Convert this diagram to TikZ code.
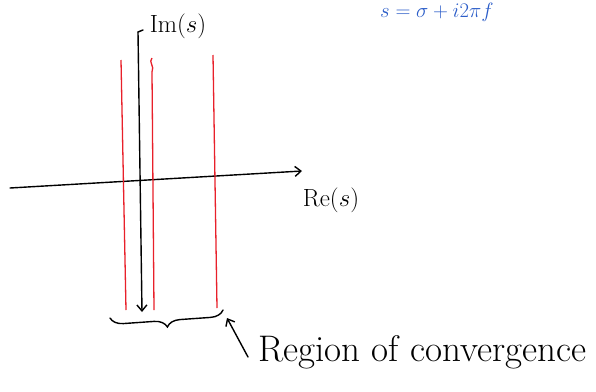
\documentclass[tikz,border=0pt]{standalone}
\usepackage{amsmath, amssymb}
\usepackage{xcolor}
\usetikzlibrary{decorations.pathreplacing, arrows.meta}
\definecolor{roc-red}{HTML}{E8202A}
\definecolor{note-blue}{HTML}{2A5CC8}

\begin{document}
\begin{tikzpicture}[x=1pt, y=-1pt,
        every node/.style={inner sep=0pt},
        axis/.style={line width=1.4pt, line cap=round},
        strip/.style={roc-red, line width=1.3pt}]
      \useasboundingbox (0,0) rectangle (596,391);
      % axes
      \coordinate (reL) at (10,188);
      \coordinate (reR) at (302,171);
      \coordinate (imT) at (138,32);
      \coordinate (imB) at (142,312);
      \draw[axis, -{Straight Barb[length=6pt, width=10pt]}] (reL) -- (reR);
      \draw[axis, -{Straight Barb[length=6pt, width=10pt]}] (imT) -- (imB);
      \draw[axis] (imT) -- ++(5,-2);
      \node[font=\fontsize{24}{28}\selectfont] (relabel) at (331,200) {$\mathrm{Re}(s)$};
      \node[font=\fontsize{25}{30}\selectfont] (imlabel) at (178,26) {$\mathrm{Im}(s)$};
      % strip boundaries
      \coordinate (s1t) at (121,60);
      \coordinate (s1b) at (126,310);
      \coordinate (s2t) at (152,58);
      \coordinate (s2b) at (154,310);
      \coordinate (s3t) at (213,55);
      \coordinate (s3b) at (217,308);
      \draw[strip] (s1t) -- (s1b);
      \draw[strip] (s2t) .. controls (148,62) and (155,66) .. (152,72) -- (s2b);
      \draw[strip] (s3t) -- (s3b);
      % region brace and label
      \coordinate (brL) at (110,318);
      \coordinate (brR) at (223,310);
      \draw[axis, decorate, decoration={brace, mirror, amplitude=13pt}] (brL) -- (brR);
      \node[anchor=west, font=\fontsize{37}{44}\selectfont] (roc) at (258,352) {Region of convergence};
      \draw[axis, -{Straight Barb[length=6pt, width=10pt]}] (roc.west) ++(-10,5) -- (227,318);
      \node[note-blue, anchor=north west, font=\fontsize{21}{25}\selectfont] (sdef) at (380,3) {$s=\sigma+i2\pi f$};
    \end{tikzpicture}
\end{document}
